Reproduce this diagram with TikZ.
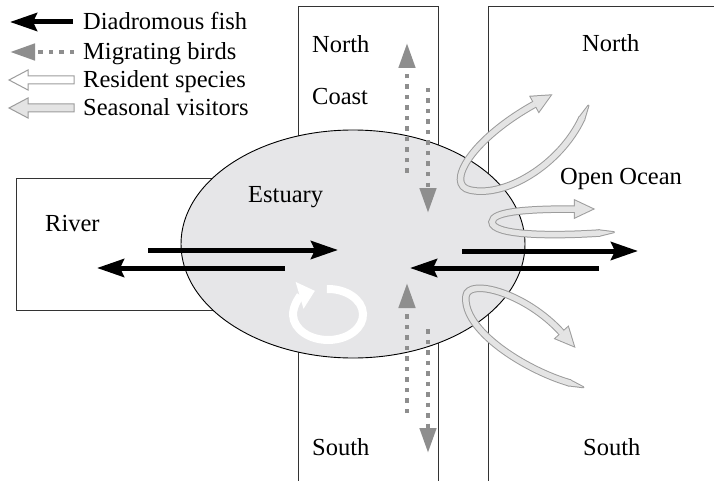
\documentclass[tikz,border=0pt]{standalone}
\usepackage{fontspec}
\setmainfont{Liberation Serif}
\usetikzlibrary{arrows.meta,decorations.markings}
\definecolor{birdgray}{HTML}{8E8E8E}
\definecolor{outgray}{HTML}{9C9C9C}
\definecolor{seasfill}{HTML}{E4E4E4}
\definecolor{estfill}{HTML}{E6E6E8}
\definecolor{boxline}{HTML}{333333}

\newcommand{\ribbonarrow}[2]{%
 \path[draw=outgray, line width=7.5pt, line cap=butt, postaction={decorate},
   decoration={markings,
     mark=at position 4pt with {\filldraw[outgray, line width=2pt, line join=round] (-3pt,-2.75pt) -- (-18pt,0pt) -- (-3pt,2.75pt) -- cycle;},
     mark=at position 0.999 with {\filldraw[outgray, line width=2pt, line join=miter] (0pt,-8.5pt) -- (18pt,0pt) -- (0pt,8.5pt) -- cycle;}}] #1;
 \path[draw=#2, line width=5.5pt, line cap=butt, postaction={decorate},
   decoration={markings,
     mark=at position 4pt with {\fill[#2] (-3pt,-2.75pt) -- (-18pt,0pt) -- (-3pt,2.75pt) -- cycle;},
     mark=at position 0.999 with {\fill[#2] (0pt,-8.5pt) -- (18pt,0pt) -- (0pt,8.5pt) -- cycle;}}] #1;
}

\tikzset{
  lbl/.style={anchor=base west, inner sep=0pt, font=\fontsize{24.5pt}{29pt}\selectfont},
  fish/.style={black, line width=5pt, -{Stealth[length=27pt,width=18pt,inset=4pt]}},
  bird/.style={birdgray, line width=4.5pt, dash pattern=on 4.5pt off 6pt, -{Triangle[length=25pt,width=16pt]}},
  boxedge/.style={draw=boxline, line width=1pt},
  hollow/.style={draw=outgray, line width=1pt, line join=miter},
}

\begin{document}
\begin{tikzpicture}[x=1pt, y=-1pt]
\useasboundingbox (0,0) rectangle (714,481);
\fill[white] (0,0) rectangle (714,481);

% boxes
\draw[boxedge, fill=white] (16,179) rectangle (240,310);
\draw[boxedge] (298,481) -- (298,7) -- (438,7) -- (438,481);
\draw[boxedge] (488,481) -- (488,7) -- (716,7);

% estuary
\draw[black, line width=0.9pt, fill=estfill] (353,244) ellipse [x radius=172pt, y radius=114pt];

% labels
\node[lbl] (river) at (45,231) {River};
\node[lbl] (estuary) at (248,202) {Estuary};
\node[lbl] (cnorth) at (312,53) {North};
\node[lbl] (coast) at (312,105) {Coast};
\node[lbl] (csouth) at (312,455) {South};
\node[lbl] (onorth) at (582,52) {North};
\node[lbl] (ocean) at (560,184) {Open Ocean};
\node[lbl] (osouth) at (583,455) {South};

% fish arrows
\coordinate (fa1) at (148,250); \coordinate (fb1) at (338,250);
\coordinate (fa2) at (285,268); \coordinate (fb2) at (97,268);
\coordinate (fa3) at (462,251); \coordinate (fb3) at (638,251);
\coordinate (fa4) at (599,268); \coordinate (fb4) at (410,268);
\draw[fish] (fa1) -- (fb1);
\draw[fish] (fa2) -- (fb2);
\draw[fish] (fa3) -- (fb3);
\draw[fish] (fa4) -- (fb4);

% bird arrows
\coordinate (ba1) at (407,173); \coordinate (bb1) at (407,43);
\coordinate (ba2) at (428,88);  \coordinate (bb2) at (428,213);
\coordinate (ba3) at (407,413); \coordinate (bb3) at (407,283);
\coordinate (ba4) at (428,329); \coordinate (bb4) at (428,453);
\draw[bird] (ba1) -- (bb1);
\draw[bird] (ba2) -- (bb2);
\draw[bird] (ba3) -- (bb3);
\draw[bird] (ba4) -- (bb4);

% resident circular arrow
\draw[white, line width=8pt, -{Triangle[length=16pt,width=27pt]}]
  (326.8,289.0) arc[start angle=-92, end angle=248, x radius=35, y radius=25.5];

% seasonal visitor loops
\ribbonarrow{(582,118) .. controls (560,165) and (505,198) .. (470,190) .. controls (445,185) and (470,140) .. (535,104)}{seasfill}
\ribbonarrow{(600,233) .. controls (555,236) and (492,236) .. (492,222) .. controls (492,211) and (530,209) .. (575,209)}{seasfill}
\ribbonarrow{(570,383) .. controls (525,370) and (462,330) .. (466,296) .. controls (468,278) and (525,292) .. (562,333)}{seasfill}

% legend
\coordinate (lfa) at (73,22); \coordinate (lfb) at (10,22);
\draw[fish] (lfa) -- (lfb);
\coordinate (lba) at (74,52); \coordinate (lbb) at (10,52);
\draw[bird] (lba) -- (lbb);
\filldraw[hollow, fill=white] (74,76) -- (28,76) -- (28,70) -- (9,80) -- (28,90) -- (28,84) -- (74,84) -- cycle;
\filldraw[hollow, fill=seasfill] (74,104) -- (28,104) -- (28,98) -- (9,108) -- (28,118) -- (28,112) -- (74,112) -- cycle;
\node[lbl] (tfish) at (83,30) {Diadromous fish};
\node[lbl] (tbird) at (83,60) {Migrating birds};
\node[lbl] (tres) at (83,88) {Resident species};
\node[lbl] (tseas) at (83,116) {Seasonal visitors};
\end{tikzpicture}
\end{document}
